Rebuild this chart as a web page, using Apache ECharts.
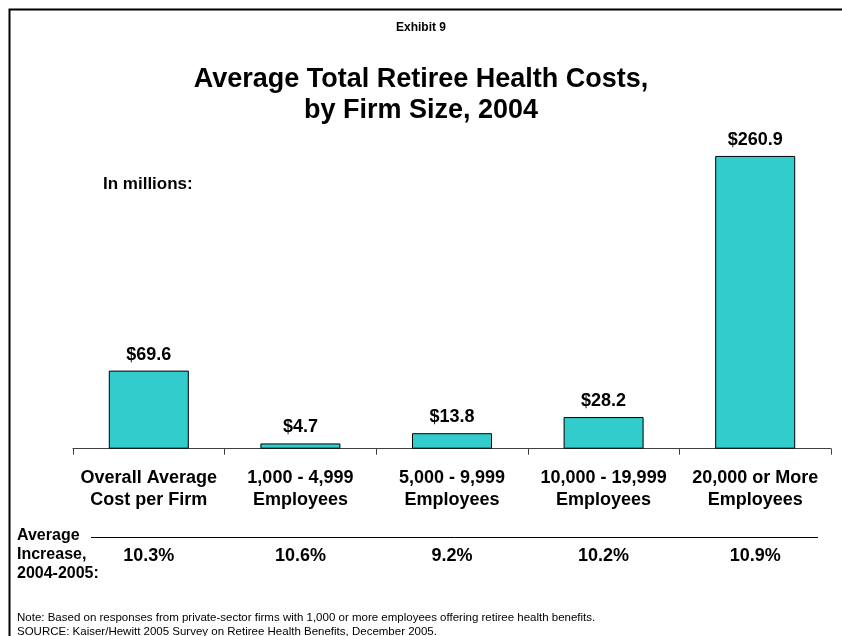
<!DOCTYPE html>
<html>
<head>
<meta charset="utf-8">
<script src="https://cdn.jsdelivr.net/npm/echarts@6/dist/echarts.min.js"></script>
<style>
  html, body { margin: 0; padding: 0; background: #fff; }
  #chart { width: 842px; height: 636px; }
</style>
</head>
<body>
<div id="chart"></div>
<script>
// Firm-size groups and 2004 retiree health cost per firm (millions of dollars)
const categories = [
  'Overall Average\nCost per Firm',
  '1,000 - 4,999\nEmployees',
  '5,000 - 9,999\nEmployees',
  '10,000 - 19,999\nEmployees',
  '20,000 or More\nEmployees'
];
const costs = [69.6, 4.7, 13.8, 28.2, 260.9];
// Average increase in cost, 2004-2005
const increases = ['10.3%', '10.6%', '9.2%', '10.2%', '10.9%'];

const FONT = 'Arial, "Liberation Sans", Helvetica, sans-serif';

const chart = echarts.init(document.getElementById('chart'), null, { renderer: 'canvas' });

chart.setOption({
  backgroundColor: '#ffffff',
  animation: false,
  textStyle: { fontFamily: FONT, color: '#000' },
  title: [
    {
      text: 'Exhibit 9',
      left: 'center',
      top: 17,
      textStyle: { fontFamily: FONT, fontSize: 12, fontWeight: 'bold', color: '#000' }
    },
    {
      text: 'Average Total Retiree Health Costs,\nby Firm Size, 2004',
      left: 'center',
      top: 59,
      textStyle: {
        fontFamily: FONT, fontSize: 27, fontWeight: 'bold', color: '#000',
        lineHeight: 31, align: 'center'
      }
    }
  ],
  grid: { left: 73, right: 11, top: 134.5, bottom: 187.3, containLabel: false },
  xAxis: [
    {
      type: 'category',
      data: categories,
      position: 'bottom',
      axisLine: { show: true, lineStyle: { color: '#404040', width: 1 } },
      axisTick: { show: true, length: 6, lineStyle: { color: '#404040' } },
      axisLabel: {
        interval: 0,
        margin: 18,
        fontFamily: FONT,
        fontSize: 18,
        fontWeight: 'bold',
        color: '#000',
        lineHeight: 22
      }
    },
    {
      type: 'category',
      data: increases,
      position: 'bottom',
      offset: 88,
      axisLine: { show: false },
      axisTick: { show: false },
      axisLabel: {
        interval: 0,
        margin: 8,
        fontFamily: FONT,
        fontSize: 18,
        fontWeight: 'bold',
        color: '#000',
        lineHeight: 22
      }
    }
  ],
  yAxis: {
    type: 'value',
    min: 0,
    max: 280,
    show: false,
    splitLine: { show: false }
  },
  series: [
    {
      type: 'bar',
      data: costs,
      xAxisIndex: 0,
      barWidth: 80,
      itemStyle: { color: '#33CCCC', borderColor: '#000', borderWidth: 1 },
      label: {
        show: true,
        position: 'top',
        distance: 7,
        fontFamily: FONT,
        fontSize: 18,
        fontWeight: 'bold',
        color: '#000',
        formatter: p => '$' + p.value.toFixed(1)
      }
    }
  ],
  graphic: [
    // page frame (top and left edges)
    {
      type: 'polyline',
      shape: { points: [[9.5, 660], [9.5, 9.5], [860, 9.5]] },
      style: { stroke: '#000', lineWidth: 2, fill: null },
      silent: true
    },
    {
      type: 'text',
      left: 103,
      top: 176,
      style: { text: 'In millions:', font: 'bold 17px ' + FONT, fill: '#000' }
    },
    {
      type: 'text',
      left: 17,
      top: 526,
      style: {
        text: 'Average\nIncrease,\n2004-2005:',
        font: 'bold 16px ' + FONT,
        fill: '#000',
        lineHeight: 19
      }
    },
    {
      type: 'line',
      shape: { x1: 91, y1: 537.5, x2: 818, y2: 537.5 },
      style: { stroke: '#000', lineWidth: 1 }
    },
    {
      type: 'text',
      left: 17,
      top: 611,
      style: {
        text: 'Note: Based on responses from private-sector firms with 1,000 or more employees offering retiree health benefits.\nSOURCE: Kaiser/Hewitt 2005 Survey on Retiree Health Benefits, December 2005.',
        font: '11.5px ' + FONT,
        fill: '#000',
        lineHeight: 14
      }
    }
  ]
});
</script>
</body>
</html>
